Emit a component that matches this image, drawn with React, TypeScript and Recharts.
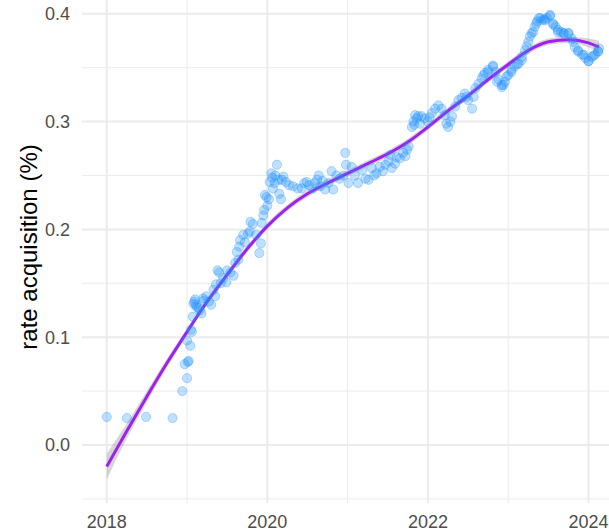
import React from "react";
import {
  ComposedChart,
  XAxis,
  YAxis,
  CartesianGrid,
  Scatter,
  Line,
  Area,
} from "recharts";

// Observed points: decimal year and rate acquisition (%)
const pointYears = [
  2018.0, 2018.25, 2018.49, 2018.82, 2018.94, 2018.97, 2019.0, 2019.01, 2019.02, 2019.0,
  2019.04, 2019.05, 2019.06, 2019.07, 2019.08, 2019.09, 2019.1, 2019.11, 2019.12, 2019.14,
  2019.16, 2019.18, 2019.2, 2019.21, 2019.24, 2019.27, 2019.3, 2019.33, 2019.35, 2019.36,
  2019.38, 2019.4, 2019.42, 2019.45, 2019.49, 2019.5, 2019.54, 2019.58, 2019.6, 2019.62,
  2019.64, 2019.65, 2019.66, 2019.7, 2019.72, 2019.76, 2019.78, 2019.79, 2019.82, 2019.86,
  2019.9, 2019.92, 2019.93, 2019.95, 2019.96, 2019.97, 2019.99, 2020.0, 2020.02, 2020.03,
  2020.05, 2020.06, 2020.07, 2020.09, 2020.1, 2020.12, 2020.14, 2020.15, 2020.17, 2020.18,
  2020.2, 2020.23, 2020.27, 2020.32, 2020.38, 2020.43, 2020.46, 2020.49, 2020.52, 2020.56,
  2020.59, 2020.62, 2020.64, 2020.66, 2020.69, 2020.72, 2020.76, 2020.8, 2020.82, 2020.86,
  2020.9, 2020.95, 2020.97, 2020.98, 2021.01, 2021.05, 2021.09, 2021.13, 2021.18, 2021.22,
  2021.26, 2021.3, 2021.33, 2021.36, 2021.4, 2021.44, 2021.47, 2021.51, 2021.53, 2021.55,
  2021.59, 2021.61, 2021.65, 2021.69, 2021.72, 2021.74, 2021.76, 2021.8, 2021.82, 2021.83,
  2021.84, 2021.86, 2021.88, 2021.9, 2021.92, 2021.96, 2022.0, 2022.02, 2022.05, 2022.09,
  2022.13, 2022.17, 2022.21, 2022.23, 2022.25, 2022.28, 2022.3, 2022.34, 2022.38, 2022.42,
  2022.46, 2022.48, 2022.5, 2022.55, 2022.57, 2022.59, 2022.63, 2022.67, 2022.71, 2022.75,
  2022.81, 2022.84, 2022.88, 2022.92, 2022.94, 2022.96, 2023.0, 2023.04, 2023.08, 2023.13,
  2023.17, 2023.21, 2023.25, 2023.29, 2023.33, 2023.36, 2023.38, 2023.42, 2023.45, 2023.48,
  2023.52, 2023.56, 2023.59, 2023.62, 2023.66, 2023.69, 2023.75, 2023.79, 2023.83, 2023.87,
  2023.92, 2023.96, 2024.0, 2024.04, 2024.08, 2024.12, 2024.13,
  2022.69, 2022.75, 2022.81, 2022.86, 2022.92, 2022.98, 2023.04, 2023.11, 2023.17, 2023.23,
  2023.27, 2023.31, 2023.35, 2023.4, 2023.46, 2023.52, 2023.56, 2023.62, 2023.69, 2023.75,
  2023.81, 2023.87, 2023.94, 2024.0, 2024.06, 2024.12,
];
const pointRates = [
  0.026, 0.025, 0.026, 0.025, 0.05, 0.075, 0.062, 0.077, 0.078, 0.097,
  0.092, 0.107, 0.105, 0.119, 0.131, 0.133, 0.135, 0.13, 0.128, 0.127,
  0.125, 0.122, 0.136, 0.134, 0.138, 0.133, 0.13, 0.144, 0.138, 0.149,
  0.162, 0.16, 0.15, 0.155, 0.151, 0.162, 0.16, 0.157, 0.169, 0.179,
  0.172, 0.184, 0.19, 0.195, 0.188, 0.196, 0.198, 0.207, 0.205, 0.195,
  0.178, 0.187, 0.206, 0.213, 0.218, 0.232, 0.23, 0.222, 0.228, 0.244,
  0.252, 0.248, 0.238, 0.243, 0.25, 0.26, 0.246, 0.233, 0.228, 0.246,
  0.249, 0.244, 0.241, 0.24, 0.238, 0.238, 0.243, 0.244, 0.241, 0.238,
  0.243, 0.246, 0.25, 0.24, 0.245, 0.237, 0.243, 0.254, 0.237, 0.25,
  0.247, 0.25, 0.271, 0.26, 0.243, 0.258, 0.25, 0.243, 0.255, 0.247,
  0.246, 0.257, 0.25, 0.252, 0.258, 0.254, 0.26, 0.263, 0.269, 0.257,
  0.261, 0.267, 0.266, 0.271, 0.268, 0.274, 0.277, 0.295, 0.3, 0.297,
  0.306, 0.303, 0.305, 0.298, 0.305, 0.303, 0.3, 0.304, 0.308, 0.312,
  0.315, 0.312, 0.306, 0.298, 0.295, 0.3, 0.305, 0.314, 0.32, 0.322,
  0.326, 0.323, 0.32, 0.312, 0.323, 0.331, 0.335, 0.34, 0.345, 0.348,
  0.352, 0.346, 0.339, 0.332, 0.334, 0.337, 0.343, 0.348, 0.351, 0.354,
  0.36, 0.366, 0.374, 0.382, 0.388, 0.393, 0.396, 0.394, 0.395, 0.396,
  0.399, 0.391, 0.388, 0.385, 0.383, 0.382, 0.382, 0.377, 0.369, 0.365,
  0.362, 0.359, 0.356, 0.36, 0.362, 0.365, 0.368,
  0.343, 0.346, 0.351, 0.337, 0.334, 0.342, 0.346, 0.353, 0.357, 0.37,
  0.379, 0.383, 0.391, 0.396, 0.394, 0.398, 0.39, 0.383, 0.382, 0.382,
  0.374, 0.366, 0.362, 0.356, 0.361, 0.365,
];

// Smoothed trend and its confidence band
const smoothYears = [
  2018.0, 2018.25, 2018.5, 2018.75, 2019.0, 2019.25, 2019.5, 2019.75, 2020.0, 2020.25,
  2020.5, 2020.75, 2021.0, 2021.25, 2021.5, 2021.75, 2022.0, 2022.25, 2022.5, 2022.75,
  2023.0, 2023.25, 2023.5, 2023.75, 2024.0, 2024.13,
];
const smoothRates = [
  -0.02, 0.013, 0.045, 0.076, 0.105, 0.133, 0.158, 0.182, 0.203, 0.22,
  0.233, 0.243, 0.252, 0.261, 0.27, 0.281, 0.295, 0.31, 0.324, 0.339,
  0.353, 0.366, 0.374, 0.376, 0.373, 0.369,
];
const bandLow = [
  -0.032, 0.006, 0.04, 0.072, 0.102, 0.13, 0.155, 0.179, 0.2, 0.217,
  0.23, 0.24, 0.249, 0.258, 0.267, 0.278, 0.292, 0.307, 0.321, 0.336,
  0.35, 0.363, 0.371, 0.373, 0.369, 0.363,
];
const bandHigh = [
  -0.008, 0.02, 0.05, 0.08, 0.108, 0.136, 0.161, 0.185, 0.206, 0.223,
  0.236, 0.246, 0.255, 0.264, 0.273, 0.284, 0.298, 0.313, 0.327, 0.342,
  0.356, 0.369, 0.377, 0.379, 0.377, 0.375,
];

const xMajorTicks = [2018, 2020, 2022, 2024];
const xMinorTicks = [2019, 2021, 2023];
const yMajorTicks = [0, 0.1, 0.2, 0.3, 0.4];
const yMinorTicks = [-0.05, 0.05, 0.15, 0.25, 0.35];

const points = pointYears.map((x, i) => ({ x, y: pointRates[i] }));
const smooth = smoothYears.map((x, i) => ({
  x,
  y: smoothRates[i],
  band: [bandLow[i], bandHigh[i]],
}));

const FONT = '"Liberation Sans", Arial, Helvetica, sans-serif';

const Dot = (props: any) => {
  const { cx, cy } = props;
  if (cx == null || cy == null) return null;
  return (
    <circle
      cx={cx}
      cy={cy}
      r={4.6}
      fill="#1E90FF"
      fillOpacity={0.28}
      stroke="#1E90FF"
      strokeOpacity={0.3}
      strokeWidth={1}
    />
  );
};

const YLabel = () => (
  <text
    x={28}
    y={247}
    transform="rotate(-90 28 247)"
    textAnchor="middle"
    dominantBaseline="central"
    fontFamily={FONT}
    fontSize={24}
    fill="#000000"
  >
    rate acquisition (%)
  </text>
);

export default function App() {
  return (
    <div style={{ position: "absolute", left: 0, top: 0, background: "#fff" }}>
      <ComposedChart
        width={609}
        height={531}
        margin={{ top: 0, right: 0, bottom: 0, left: 0 }}
      >
        <CartesianGrid
          stroke="#EBEBEB"
          strokeWidth={1}
          horizontalValues={yMinorTicks}
          verticalValues={xMinorTicks}
        />
        <CartesianGrid
          stroke="#EBEBEB"
          strokeWidth={2}
          horizontalValues={yMajorTicks}
          verticalValues={xMajorTicks}
        />
        <XAxis
          dataKey="x"
          type="number"
          domain={[2017.692, 2024.255]}
          allowDataOverflow
          ticks={xMajorTicks}
          interval={0}
          height={28}
          axisLine={false}
          tickLine={false}
          tickSize={6}
          tickMargin={6}
          tick={{ fill: "#4D4D4D", fontSize: 18, fontFamily: FONT }}
        />
        <YAxis
          dataKey="y"
          type="number"
          domain={[-0.0538, 0.4128]}
          allowDataOverflow
          ticks={yMajorTicks}
          interval={0}
          width={82}
          axisLine={false}
          tickLine={false}
          tickSize={6}
          tickMargin={6}
          tickFormatter={(v: number) => v.toFixed(1)}
          tick={{ fill: "#4D4D4D", fontSize: 18, fontFamily: FONT }}
          label={<YLabel />}
        />
        <Area
          data={smooth}
          dataKey="band"
          type="monotone"
          stroke="none"
          fill="#999999"
          fillOpacity={0.4}
          isAnimationActive={false}
        />
        <Scatter
          data={points}
          dataKey="y"
          shape={<Dot />}
          isAnimationActive={false}
        />
        <Line
          data={smooth}
          dataKey="y"
          type="monotone"
          stroke="#A020F0"
          strokeWidth={3}
          dot={false}
          activeDot={false}
          isAnimationActive={false}
        />
      </ComposedChart>
    </div>
  );
}
